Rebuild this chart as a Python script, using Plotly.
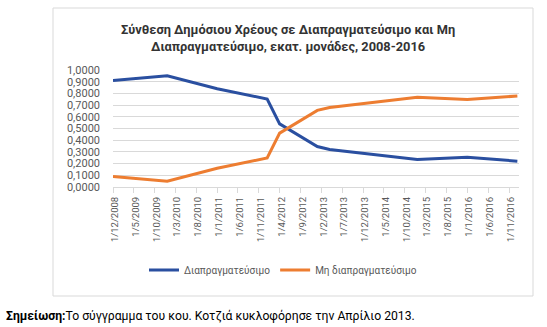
import plotly.graph_objects as go

# ---- data ----
dates = ["2008-12-01", "2010-01-01", "2011-01-01", "2012-01-01", "2012-04-01",
         "2013-01-01", "2013-04-01", "2015-01-01", "2016-01-01", "2017-01-01"]
tradable = [0.910, 0.950, 0.840, 0.752, 0.540, 0.346, 0.320, 0.235, 0.255, 0.221]
non_tradable = [0.090, 0.050, 0.160, 0.248, 0.460, 0.655, 0.680, 0.768, 0.748, 0.778]

tick_dates = ["2008-12-01", "2009-05-01", "2009-10-01", "2010-03-01", "2010-08-01",
              "2011-01-01", "2011-06-01", "2011-11-01", "2012-04-01", "2012-09-01",
              "2013-02-01", "2013-07-01", "2013-12-01", "2014-05-01", "2014-10-01",
              "2015-03-01", "2015-08-01", "2016-01-01", "2016-06-01", "2016-11-01"]
tick_text = ["1/12/2008", "1/5/2009", "1/10/2009", "1/3/2010", "1/8/2010",
             "1/1/2011", "1/6/2011", "1/11/2011", "1/4/2012", "1/9/2012",
             "1/2/2013", "1/7/2013", "1/12/2013", "1/5/2014", "1/10/2014",
             "1/3/2015", "1/8/2015", "1/1/2016", "1/6/2016", "1/11/2016"]
y_ticks = [0.0, 0.1, 0.2, 0.3, 0.4, 0.5, 0.6, 0.7, 0.8, 0.9, 1.0]

series_names = ["Διαπραγματεύσιμο", "Μη διαπραγματεύσιμο"]
title_text = "Σύνθεση Δημόσιου Χρέους σε Διαπραγματεύσιμο και Μη<br>Διαπραγματεύσιμο, εκατ. μονάδες, 2008-2016"
note_text = "<b>Σημείωση:</b>Το σύγγραμμα του κου. Κοτζιά κυκλοφόρησε την Απρίλιο 2013."

FONT = "Roboto, 'Noto Sans', sans-serif"
W, H = 547, 327
L, R, T, B = 113, 28, 70, 140
pw, ph = W - L - R, H - T - B


def px(x):
    return (x - L) / pw


def py(y):
    return (H - B - y) / ph


fig = go.Figure()
fig.add_trace(go.Scatter(x=dates, y=tradable, mode="lines", name=series_names[0],
                         line=dict(color="#2A4FA0", width=3)))
fig.add_trace(go.Scatter(x=dates, y=non_tradable, mode="lines", name=series_names[1],
                         line=dict(color="#ED7D31", width=3)))

fig.update_layout(
    width=W, height=H,
    margin=dict(l=L, r=R, t=T, b=B),
    paper_bgcolor="white", plot_bgcolor="white",
    separators=",.",
    font=dict(family=FONT, color="#595959", size=11),
    showlegend=True,
    legend=dict(orientation="h", x=px(283), xanchor="center", y=py(270), yanchor="middle",
                font=dict(size=10, color="#595959"), itemwidth=30, bgcolor="rgba(0,0,0,0)"),
    shapes=[dict(type="rect", xref="paper", yref="paper",
                 x0=px(53), x1=px(533), y0=py(296), y1=py(8),
                 line=dict(color="#D9D9D9", width=1), fillcolor="rgba(0,0,0,0)", layer="below")],
    annotations=[
        dict(text="<b>" + title_text + "</b>", xref="paper", yref="paper",
             x=px(288), y=py(37.5), xanchor="center", yanchor="middle", showarrow=False,
             font=dict(size=12.8, color="#333333", family=FONT)),
        dict(text=note_text, xref="paper", yref="paper",
             x=px(4), y=py(316), xanchor="left", yanchor="middle", showarrow=False,
             font=dict(size=12.2, color="#000000", family=FONT)),
    ],
)

fig.update_xaxes(type="date", range=["2008-12-01", "2017-01-13"],
                 tickmode="array", tickvals=tick_dates, ticktext=tick_text,
                 tickangle=-90, showgrid=False, showline=True, linecolor="#D9D9D9",
                 ticks="outside", ticklen=5, tickcolor="#D9D9D9", ticklabelshift=2,
                 tickfont=dict(size=9.5, color="#595959"), zeroline=False)
fig.update_yaxes(range=[0, 1.0], tickmode="array", tickvals=y_ticks, tickformat=".4f",
                 showgrid=True, gridcolor="#D9D9D9", gridwidth=1, zeroline=False,
                 showline=False, ticks="", ticklabelstandoff=12,
                 tickfont=dict(size=11, color="#595959"))

fig.write_html("out.html")
